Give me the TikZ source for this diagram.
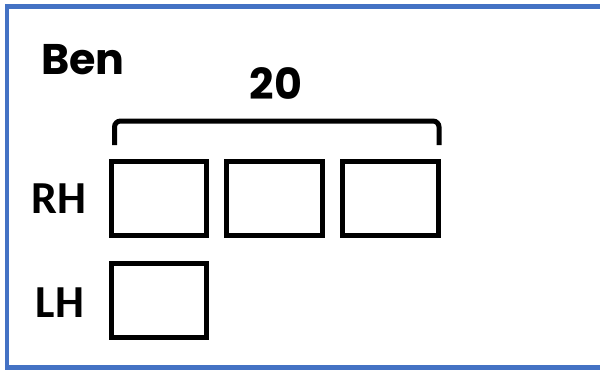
\documentclass[tikz,border=0pt]{standalone}
\usepackage{fontspec}
\newfontfamily\titlefont[BoldFont={Poppins Bold}]{Poppins}
\newfontfamily\labelfont{Carlito}
\definecolor{frameblue}{HTML}{4472C4}
\begin{document}
\begin{tikzpicture}[x=1bp,y=-1bp,
  cell/.style={draw=black,line width=5bp},
  bigtext/.style={inner sep=0pt,anchor=base,font=\titlefont\bfseries\fontsize{43}{48}\selectfont},
  sidetext/.style={inner sep=0pt,anchor=base,font=\labelfont\bfseries\fontsize{46}{52}\selectfont}]
\useasboundingbox (0,0) rectangle (600,369);
\fill[white] (0,0) rectangle (600,369);
\draw[frameblue,line width=4.5bp] (600,6.7) -- (7,6.7) -- (7,367.5) -- (600,367.5);
% boxes
\draw[cell] (111.5,161.5) rectangle (206.5,235.5);
\draw[cell] (226.5,161.5) rectangle (322.5,235.5);
\draw[cell] (342.5,161.5) rectangle (438.5,235.5);
\draw[cell] (111.5,263.5) rectangle (206.5,337.5);
% bracket
\coordinate (bl) at (114.5,145);
\coordinate (br) at (439,145);
\draw[line width=5bp,rounded corners=6bp] (bl) -- (114.5,121) -- (439,121) -- (br);
% texts
\node[bigtext] (ben) at (83,74) {Ben};
\node[bigtext] (num) at (276,99) {20};
\node[sidetext] (rh) at (59,213) {RH};
\node[sidetext] (lh) at (60,317) {LH};
\end{tikzpicture}
\end{document}
